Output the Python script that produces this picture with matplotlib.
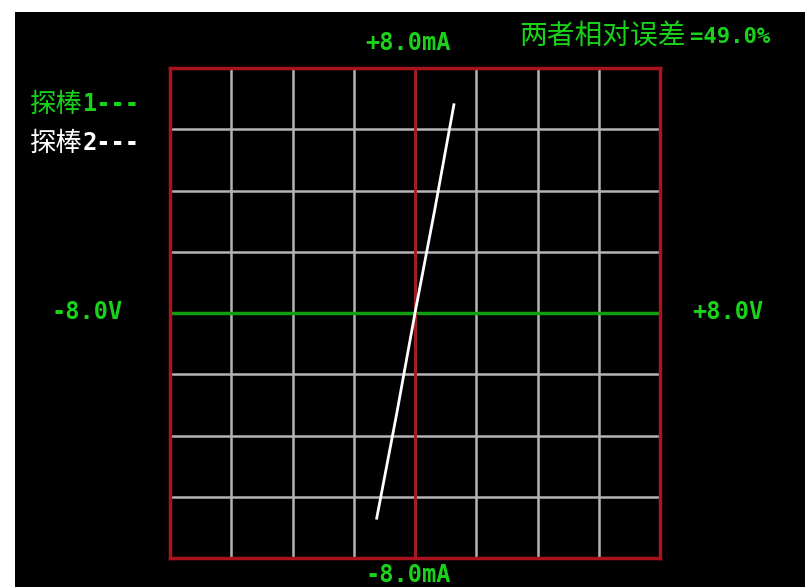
import matplotlib.pyplot as plt

# 坐标范围与刻度 (V / mA)
x_ticks = [-8, -6, -4, -2, 0, 2, 4, 6, 8]
y_ticks = [-8, -6, -4, -2, 0, 2, 4, 6, 8]

# 探棒2 的 I-V 曲线
probe2_v = [-1.25, -0.6, 0.0, 0.65, 1.27]
probe2_i = [-6.7, -3.3, 0.0, 3.4, 6.8]

axis_labels = {"top": "+8.0mA", "bottom": "-8.0mA", "left": "-8.0V", "right": "+8.0V"}
error_title = "两者相对误差"
error_value = "=49.0%"
legend_names = ["探棒", "探棒"]
legend_tags = ["1---", "2---"]

GREEN = "#19d219"
RED = "#a8141e"
GRID = "#b4b4b4"
CJK = ["Noto Sans CJK SC", "DejaVu Sans"]
MONO = "DejaVu Sans Mono"

W, H = 805, 587
fig = plt.figure(figsize=(W / 100, H / 100), dpi=100)
fig.patch.set_facecolor("white")


def px(x, y):
    # 像素坐标 -> figure 坐标
    return x / W, 1 - y / H


# 黑色屏幕背景
bg = fig.add_axes([15 / W, 0, (W - 15) / W, (H - 12) / H])
bg.set_facecolor("black")
bg.set_xticks([])
bg.set_yticks([])
for s in bg.spines.values():
    s.set_visible(False)

# 示波器网格区
ax = fig.add_axes([170 / W, (H - 558) / H, 490 / W, 490 / H])
ax.set_facecolor("black")
ax.set_xlim(x_ticks[0], x_ticks[-1])
ax.set_ylim(y_ticks[0], y_ticks[-1])
ax.set_xticks(x_ticks)
ax.set_yticks(y_ticks)
ax.tick_params(length=0, labelbottom=False, labelleft=False)
ax.grid(True, color=GRID, linewidth=1.8)
for s in ax.spines.values():
    s.set_color(RED)
    s.set_linewidth(2.5)
    s.set_zorder(5)

ax.axhline(0, color="#12a012", linewidth=2.5, zorder=3)
ax.axvline(0, color=RED, linewidth=2.0, zorder=3)
ax.plot(probe2_v, probe2_i, color="white", linewidth=2.0, zorder=4)

# 坐标轴标注
num_kw = dict(color=GREEN, family=MONO, fontweight="bold", fontsize=17, ha="center", va="center")
fig.text(*px(408, 43), axis_labels["top"], **num_kw)
fig.text(*px(408, 575), axis_labels["bottom"], **num_kw)
fig.text(*px(87, 312), axis_labels["left"], **num_kw)
fig.text(*px(728, 312), axis_labels["right"], **num_kw)

# 相对误差
fig.text(*px(519, 37), error_title, color=GREEN, family=CJK, fontsize=20, ha="left", va="center")
fig.text(*px(690, 37), error_value, color=GREEN, family=MONO, fontweight="bold",
         fontsize=16, ha="left", va="center")

# 图例
for i, (name, tag, c) in enumerate(zip(legend_names, legend_tags, [GREEN, "white"])):
    y = 104 + 39 * i
    fig.text(*px(30, y), name, color=c, family=CJK, fontsize=19, ha="left", va="center")
    fig.text(*px(83, y), tag, color=c, family=MONO, fontweight="bold",
             fontsize=17, ha="left", va="center")

fig.savefig("out.png", dpi=100, facecolor=fig.get_facecolor())
